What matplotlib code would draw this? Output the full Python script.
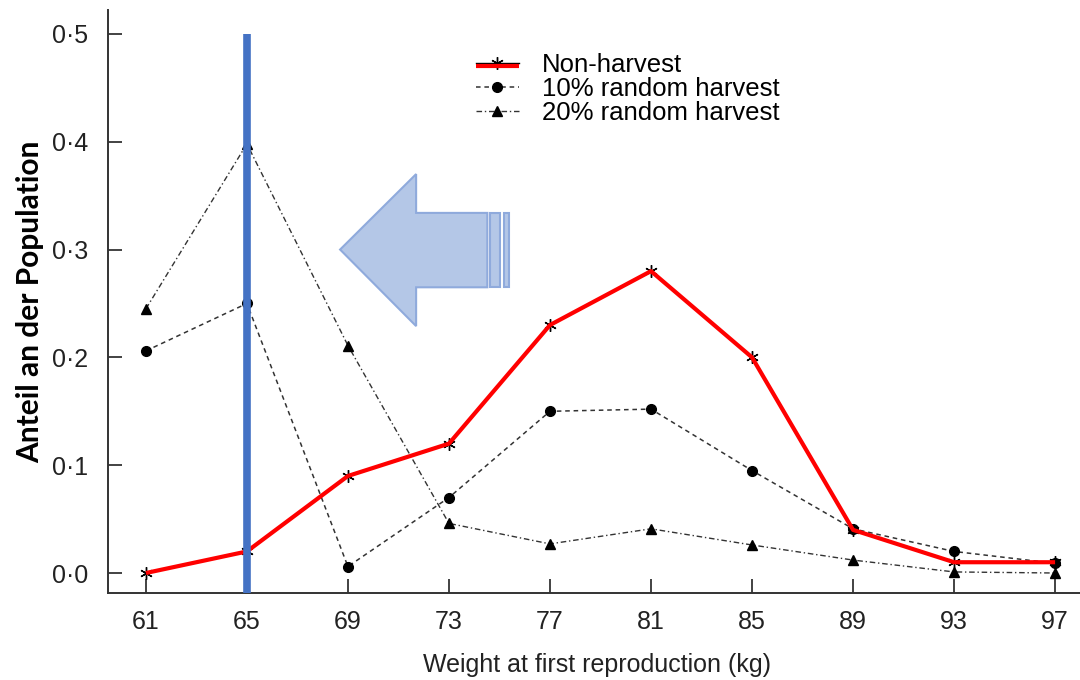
import matplotlib
matplotlib.use('Agg')
import matplotlib.pyplot as plt
from matplotlib.patches import Polygon, Rectangle
from matplotlib.lines import Line2D
from matplotlib.legend_handler import HandlerLine2D
from matplotlib.ticker import FuncFormatter

# weight classes (kg)
weights = [61, 65, 69, 73, 77, 81, 85, 89, 93, 97]
# share of the population per weight class
non_harvest = [0.0, 0.02, 0.09, 0.12, 0.23, 0.28, 0.20, 0.04, 0.01, 0.01]
harvest_10 = [0.206, 0.25, 0.006, 0.07, 0.15, 0.152, 0.095, 0.041, 0.02, 0.009]
harvest_20 = [0.245, 0.398, 0.211, 0.046, 0.027, 0.041, 0.026, 0.012, 0.001, 0.0]
y_ticks = [0.0, 0.1, 0.2, 0.3, 0.4, 0.5]
marked_weight = 65

plt.rcParams['font.family'] = ['Liberation Sans', 'DejaVu Sans']


class RedUnderline(HandlerLine2D):
    # legend key: black line with star plus a red bar just below it
    def create_artists(self, legend, orig_handle, xdescent, ydescent,
                       width, height, fontsize, trans):
        arts = super().create_artists(legend, orig_handle, xdescent, ydescent,
                                      width, height, fontsize, trans)
        y = (height - ydescent) / 2.0 - 2.5
        red = Line2D([-xdescent, -xdescent + width], [y, y], color='#ff0000',
                     lw=3, solid_capstyle='butt', transform=trans)
        return arts + [red]


fig = plt.figure(figsize=(10.8, 6.8), dpi=100)
ax = fig.add_axes([0.100, 0.128, 0.905, 0.857])

# series
ln_non, = ax.plot(weights, non_harvest, color='black', lw=1.0, marker=(6, 2, 0),
                  ms=9, mew=1.0, label='Non-harvest', zorder=4)
ax.plot(weights, harvest_10, color='#333333', lw=1.1, ls=(0, (3, 2.5)),
        marker='o', ms=7, mfc='black', mec='black', label='10% random harvest', zorder=3)
ax.plot(weights, harvest_20, color='#333333', lw=1.0, ls=(0, (4, 2, 1, 2)),
        marker='^', ms=7, mfc='black', mec='black', label='20% random harvest', zorder=3)

# red overlay on the non-harvest line
ax.plot(weights, non_harvest, color='#ff0000', lw=3, zorder=5, solid_capstyle='butt')

# blue marker line at 65 kg
ax.plot([marked_weight, marked_weight], [-0.03, 0.5], color='#4472C4', lw=5.5,
        solid_capstyle='butt', zorder=6)

# big arrow pointing left
fill_c, edge_c = '#B4C7E7', '#8FAADC'
arrow = Polygon([(68.69, 0.300), (71.70, 0.370), (71.70, 0.334), (74.52, 0.334),
                 (74.52, 0.265), (71.70, 0.265), (71.70, 0.229)],
                closed=True, fc=fill_c, ec=edge_c, lw=1.5, zorder=2)
ax.add_patch(arrow)
ax.add_patch(Rectangle((74.64, 0.265), 0.39, 0.069, fc=fill_c, ec=edge_c, lw=1.5, zorder=2))
ax.add_patch(Rectangle((75.17, 0.265), 0.22, 0.069, fc=fill_c, ec=edge_c, lw=1.5, zorder=2))

ax.set_xlim(59.5, 98.2)
ax.set_ylim(-0.0185, 0.522)
ax.set_xticks(weights)
ax.set_yticks(y_ticks)
ax.yaxis.set_major_formatter(FuncFormatter(lambda v, p: f'{v:.1f}'.replace('.', '\u00b7')))
ax.tick_params(direction='in', length=10, width=1.2, labelsize=18, colors='#222222')
ax.tick_params(axis='x', pad=12)
ax.tick_params(axis='y', pad=14)

for s in ['top', 'right']:
    ax.spines[s].set_visible(False)
for s in ['left', 'bottom']:
    ax.spines[s].set_linewidth(1.4)
    ax.spines[s].set_color('#333333')

ax.set_xlabel('Weight at first reproduction (kg)', fontsize=18, color='#222222', labelpad=14)
ax.set_ylabel('Anteil an der Population', fontsize=21.5, fontweight='bold',
              family=['Lato', 'DejaVu Sans'], labelpad=6)

leg = ax.legend(loc='upper left', bbox_to_anchor=(0.353, 0.967), frameon=False,
                fontsize=18.5, handlelength=1.65, labelspacing=0.0, handletextpad=0.9,
                handler_map={ln_non: RedUnderline()})

fig.savefig('out.png', dpi=100)
